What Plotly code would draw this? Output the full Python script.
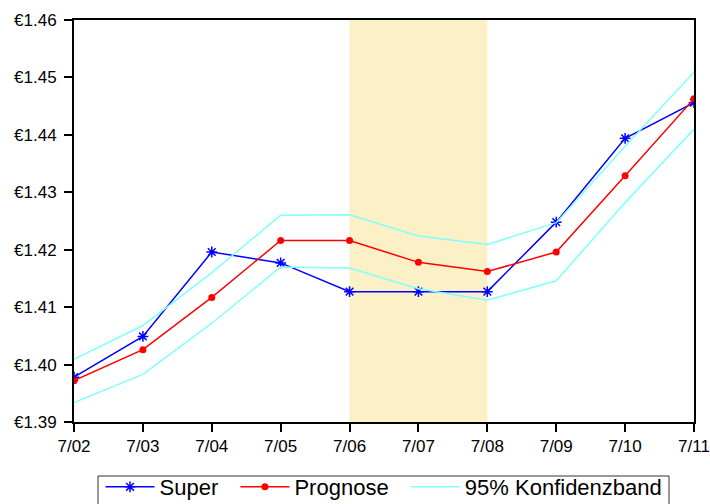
import plotly.graph_objects as go

dates = ["7/02", "7/03", "7/04", "7/05", "7/06", "7/07", "7/08", "7/09", "7/10", "7/11"]
super_vals = [1.3978, 1.4049, 1.4196, 1.4177, 1.4127, 1.4127, 1.4127, 1.4248, 1.4394, 1.4456]
prognose = [1.3972, 1.4026, 1.4117, 1.4216, 1.4216, 1.4178, 1.4162, 1.4196, 1.4329, 1.4463]
band_upper = [1.4009, 1.4068, 1.4160, 1.4260, 1.4261, 1.4224, 1.4209, 1.4247, 1.4380, 1.4509]
band_lower = [1.3934, 1.3983, 1.4072, 1.4170, 1.4168, 1.4132, 1.4112, 1.4146, 1.4282, 1.4410]
shade_start, shade_end = "7/06", "7/08"
y_ticks = [1.39, 1.40, 1.41, 1.42, 1.43, 1.44, 1.45, 1.46]
y_labels = ["€%.2f" % v for v in y_ticks]

CYAN = "#80FFFF"
FONT = "Liberation Sans, Arial, sans-serif"
PAD = "\u00a0\u00a0"  # keeps legend entries spaced apart

W, H = 710, 504
M_L, M_R, M_T, M_B = 74, 16, 20, 82
PLOT_W, PLOT_H = W - M_L - M_R, H - M_T - M_B

fig = go.Figure()

fig.add_trace(go.Scatter(
    x=dates, y=super_vals, name="Super" + PAD, mode="lines+markers",
    line=dict(color="#0000FF", width=1.5),
    marker=dict(symbol="asterisk-open", size=9, color="#0000FF", line=dict(color="#0000FF", width=1.5)),
))
fig.add_trace(go.Scatter(
    x=dates, y=prognose, name="Prognose" + PAD, mode="lines+markers",
    line=dict(color="#FF0000", width=1.5),
    marker=dict(symbol="circle", size=7, color="#FF0000"),
))
fig.add_trace(go.Scatter(
    x=dates, y=band_upper, name="95% Konfidenzband", mode="lines",
    line=dict(color=CYAN, width=1.5),
))
fig.add_trace(go.Scatter(
    x=dates, y=band_lower, name="95% Konfidenzband", mode="lines",
    line=dict(color=CYAN, width=1.5), showlegend=False,
))

# highlighted forecast window
fig.add_vrect(
    x0=dates.index(shade_start), x1=dates.index(shade_end),
    fillcolor="#FBF0C6", line_width=0, layer="below",
)

# frame around the legend (runs off the bottom edge of the page)
fig.add_shape(
    type="rect", xref="paper", yref="paper",
    x0=(98 - M_L) / PLOT_W, x1=(669 - M_L) / PLOT_W,
    y0=(M_T + PLOT_H - 476) / PLOT_H, y1=(M_T + PLOT_H - 520) / PLOT_H,
    line=dict(color="#333333", width=1), fillcolor="rgba(0,0,0,0)",
)

fig.update_layout(
    width=W, height=H,
    margin=dict(l=M_L, r=M_R, t=M_T, b=M_B),
    paper_bgcolor="white", plot_bgcolor="white",
    font=dict(family=FONT, size=17, color="black"),
    showlegend=True,
    legend=dict(
        orientation="h", x=0.5, xanchor="center",
        yref="container", y=1 - 466 / 504, yanchor="top",
        borderwidth=0, bgcolor="rgba(0,0,0,0)", font=dict(size=22),
        itemwidth=49, traceorder="normal",
    ),
)

fig.update_xaxes(
    type="category", range=[0, len(dates) - 1],
    showgrid=False, zeroline=False, automargin=False,
    showline=True, linecolor="black", linewidth=2, mirror=True,
    ticks="outside", ticklen=8, tickcolor="black", tickwidth=1.5,
    tickfont=dict(size=17),
)
fig.update_yaxes(
    range=[y_ticks[0], y_ticks[-1]], tickvals=y_ticks, ticktext=y_labels,
    showgrid=False, zeroline=False, automargin=False,
    showline=True, linecolor="black", linewidth=2, mirror=True,
    ticks="outside", ticklen=8, tickcolor="black", tickwidth=1.5,
    tickfont=dict(size=17), ticklabelstandoff=4,
)

fig.write_html("out.html")
